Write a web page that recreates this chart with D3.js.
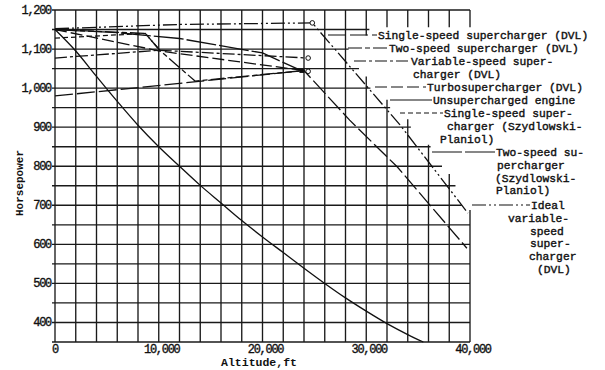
<!DOCTYPE html>
<html>
<head>
<meta charset="utf-8">
<script src="https://cdn.jsdelivr.net/npm/d3@7"></script>
<style>
  body { margin: 0; background: #fff; }
  text { font-family: "Liberation Mono", "DejaVu Sans Mono", monospace; fill: #111; }
</style>
</head>
<body>
<div id="chart"></div>
<script>
// tick values
var hpTicks = [400, 500, 600, 700, 800, 900, 1000, 1100, 1200];
var altTicks = [0, 10000, 20000, 30000, 40000];

// series values: [altitude ft, horsepower]
var unsupercharged = [[0, 1150], [2000, 1095], [4000, 1030], [6000, 966], [8000, 905], [10000, 850],
  [12000, 800], [14000, 751], [16000, 706], [18000, 661], [20000, 619], [22000, 579], [24000, 539],
  [26000, 500], [28000, 463], [30000, 429], [32000, 397], [34000, 369], [35500, 350]];
var singleSpeedDVL = [[0, 980], [12000, 1012], [24000, 1045], [28400, 918], [33000, 798], [39700, 590]];
var twoSpeedDVL = [[0, 1150], [8700, 1140], [10100, 1097], [13500, 1018], [24000, 1045]];
var variableSpeedDVL = [[0, 1077], [10000, 1097], [24400, 1077]];
var turboDVL = [[0, 1150], [10100, 1095], [24000, 1045]];
var singleSpeedSP = [[0, 1128], [8700, 1140], [10100, 1097]];
var twoSpeedSP = [[0, 1150], [6000, 1142], [12000, 1127], [20000, 1090], [23800, 1044]];
var idealDVL = [[0, 1152], [12000, 1163], [24800, 1167], [33250, 906], [39800, 680]];

// critical-altitude markers
var openMarks = [[24800, 1167], [24400, 1077], [24400, 1043]];
var filledMarks = [[23800, 1044]];

// where the grid is cut away behind the labels (altitude, hp)
var gridCut = [[40300, 1156], [30300, 1156], [30300, 1135], [28300, 1135], [28300, 1060],
  [29300, 1060], [29300, 1030], [30400, 1030], [30400, 970], [32300, 970], [32300, 920],
  [34300, 920], [34300, 855], [36200, 855], [36200, 810], [37300, 810], [37300, 780],
  [38600, 780], [38600, 730], [39200, 730], [39200, 688], [40300, 688]];

var svgWidth = 605;
var svgHeight = 370;

var svg = d3.select("#chart")
  .append("svg")
  .attr("width", svgWidth)
  .attr("height", svgHeight);

var x = d3.scaleLinear().domain([0, 40000]).range([55, 470]);
var y = d3.scaleLinear().domain([350, 1200]).range([342, 10]);

// legend placement and line styles
var series = [
  { data: singleSpeedDVL, dash: "18,4", lx: 328, ly: 35, tx: 378, lines: ["Single-speed supercharger (DVL)"] },
  { data: twoSpeedDVL, dash: "14,3,5,3", lx: 348, ly: 48, tx: 389, lines: ["Two-speed supercharger (DVL)"] },
  { data: variableSpeedDVL, dash: "12,3,3,3", lx: 354, ly: 61, tx: 411, lines: ["Variable-speed super-", "charger (DVL)"] },
  { data: turboDVL, dash: "12,4", lx: 375, ly: 87, tx: 427, lines: ["Turbosupercharger (DVL)"] },
  { data: unsupercharged, dash: null, lx: 390, ly: 100, tx: 433, lines: ["Unsupercharged engine"], smooth: true },
  { data: singleSpeedSP, dash: "5,3", lx: 400, ly: 113, tx: 444, lines: ["Single-speed super-", "charger (Szydlowski-", "Planiol)"] },
  { data: twoSpeedSP, dash: "30,3", lx: 432, ly: 152, tx: 496, lines: ["Two-speed su-", "percharger", "(Szydlowski-", "Planiol)"] },
  { data: idealDVL, dash: "14,3,2,3,2,3", lx: 472, ly: 205, tx: 531, lines: ["Ideal", "variable-", "speed", "super-", "charger", "(DVL)"] }
];
// per-line x shift of the wrapped label lines
var lineIndent = [[0], [0], [0, 2], [0], [0], [0, 3, -4], [0, 1, -1, 0], [0, -23, -1, -1, -2, 6]];

// grid clip (staircase behind the labels)
var clipPts = [[x(0) - 8, y(1200) - 4], [x(40000) + 3, y(1200) - 4]]
  .concat(gridCut.map(d => [x(d[0]), y(d[1])]))
  .concat([[x(40000) + 3, y(350) + 4], [x(0) - 8, y(350) + 4]]);

svg.append("clipPath")
  .attr("id", "gridClip")
  .append("polygon")
  .attr("points", clipPts.map(p => p.join(",")).join(" "));

var grid = svg.append("g")
  .attr("clip-path", "url(#gridClip)")
  .attr("stroke", "#1a1a1a")
  .attr("stroke-width", 1.35);

grid.selectAll("line.h")
  .data(d3.range(350, 1201, 50))
  .enter()
  .append("line")
  .attr("x1", x(0) - 3)
  .attr("x2", x(40000))
  .attr("y1", d => y(d))
  .attr("y2", d => y(d));

grid.selectAll("line.v")
  .data(d3.range(0, 40001, 2000))
  .enter()
  .append("line")
  .attr("x1", d => x(d))
  .attr("x2", d => x(d))
  .attr("y1", y(1200))
  .attr("y2", y(350));

// tick labels
svg.selectAll("text.ytick")
  .data(hpTicks)
  .enter()
  .append("text")
  .attr("x", 51)
  .attr("y", d => y(d) + 4)
  .attr("text-anchor", "end")
  .style("font-size", "12px")
  .style("letter-spacing", "-1.3px")
  .style("stroke", "#111")
  .style("stroke-width", 0.35)
  .text(d => d3.format(",")(d));

svg.selectAll("text.xtick")
  .data(altTicks)
  .enter()
  .append("text")
  .attr("x", d => x(d) + (d ? 3 : 0))
  .attr("y", 353)
  .attr("text-anchor", "middle")
  .style("font-size", "12px")
  .style("letter-spacing", "-1.3px")
  .style("stroke", "#111")
  .style("stroke-width", 0.35)
  .text(d => d3.format(",")(d));

// axis titles
svg.append("text")
  .attr("x", 259)
  .attr("y", 366)
  .attr("text-anchor", "middle")
  .style("font-size", "11.5px")
  .style("font-weight", "bold")
  .text("Altitude,ft");

svg.append("text")
  .attr("transform", "translate(23,183) rotate(-90)")
  .attr("text-anchor", "middle")
  .style("font-size", "11px")
  .style("font-weight", "bold")
  .text("Horsepower");

// curves
var line = d3.line().x(d => x(d[0])).y(d => y(d[1]));

svg.selectAll("path.curve")
  .data(series)
  .enter()
  .append("path")
  .attr("d", d => line.curve(d.smooth ? d3.curveMonotoneX : d3.curveLinear)(d.data))
  .attr("fill", "none")
  .attr("stroke", "#111")
  .attr("stroke-width", 1.3)
  .attr("stroke-dasharray", d => d.dash);

svg.selectAll("circle.mark")
  .data(openMarks)
  .enter()
  .append("circle")
  .attr("cx", d => x(d[0]))
  .attr("cy", d => y(d[1]))
  .attr("r", 2.3)
  .attr("fill", "#fff")
  .attr("stroke", "#111")
  .attr("stroke-width", 1);

svg.selectAll("rect.mark")
  .data(filledMarks)
  .enter()
  .append("rect")
  .attr("x", d => x(d[0]) - 2.5)
  .attr("y", d => y(d[1]) - 2)
  .attr("width", 5)
  .attr("height", 4)
  .attr("fill", "#111");

// legend leaders and labels
var legend = svg.selectAll("g.legend")
  .data(series)
  .enter()
  .append("g");

legend.append("line")
  .attr("x1", d => d.lx)
  .attr("x2", d => d.tx - 1)
  .attr("y1", d => d.ly)
  .attr("y2", d => d.ly)
  .attr("stroke", "#111")
  .attr("stroke-width", 1.2)
  .attr("stroke-dasharray", d => d.dash);

legend.each(function (d, i) {
  d3.select(this).selectAll("text")
    .data(d.lines)
    .enter()
    .append("text")
    .attr("x", (t, j) => d.tx + lineIndent[i][j])
    .attr("y", (t, j) => d.ly + 4 + j * 12.8)
    .style("font-size", "11.3px")
    .style("stroke", "#111")
    .style("stroke-width", 0.4)
    .text(t => t);
});
</script>
</body>
</html>
